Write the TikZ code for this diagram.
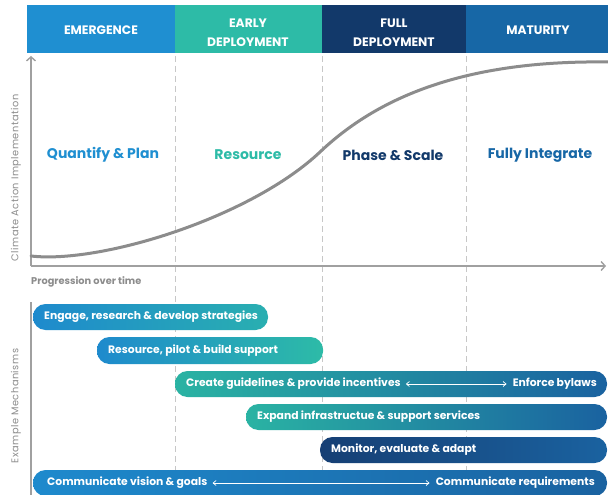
\documentclass[tikz,border=0pt]{standalone}
\usepackage{fontspec}
\setmainfont{Poppins}
\newfontfamily\spacedfont[LetterSpace=5]{Poppins}
\usetikzlibrary{arrows.meta}
\definecolor{cblue}{HTML}{1F8FD1}
\definecolor{cteal}{HTML}{2DBBA7}
\definecolor{cnavy}{HTML}{12396A}
\definecolor{cmat}{HTML}{1767A6}
\definecolor{cgray}{HTML}{8C8C8C}
\definecolor{cline}{HTML}{A0A0A0}
\definecolor{bblue}{HTML}{1E8ACD}
\definecolor{bteal}{HTML}{2AB3A3}
\definecolor{bnavy}{HTML}{163F74}
\definecolor{bend}{HTML}{1A62A0}
\tikzset{
  hdr/.style={text=white, font=\fontsize{12.3}{19}\selectfont\bfseries, align=center, inner sep=0},
  stage/.style={font=\fontsize{14}{16}\selectfont\bfseries, inner sep=0},
  bartext/.style={text=white, font=\fontsize{10.8}{12}\selectfont\bfseries, anchor=west, inner sep=0},
  axlabel/.style={text=cgray, font=\spacedfont\fontsize{9.8}{11}\selectfont, inner sep=0},
  phase/.style={draw=black!22, dashed, dash pattern=on 6pt off 4pt, line width=0.8pt},
  axis/.style={draw=cline, line width=1.4pt},
  barshape/.style={rounded corners=12.5pt},
  dbl/.style={draw=white, line width=0.7pt, {Straight Barb[length=3pt,width=5pt]}-{Straight Barb[length=3pt,width=5pt]}}
}
\begin{document}
\begin{tikzpicture}[x=1pt,y=-1pt]
\useasboundingbox (0,0) rectangle (608,495);
\fill[white] (0,0) rectangle (608,495);
% header
\fill[cblue] (27,5) rectangle (175,53);
\fill[cteal] (175,5) rectangle (322,53);
\fill[cnavy] (322,5) rectangle (466,53);
\fill[cmat] (466,5) rectangle (608,53);
\node[hdr] (h1) at (101,30) {EMERGENCE};
\node[hdr] (h2) at (248,32.5) {EARLY\\DEPLOYMENT};
\node[hdr] (h3) at (394,32.5) {FULL\\DEPLOYMENT};
\node[hdr] (h4) at (538,30) {MATURITY};
% dashed phase separators
\draw[phase] (175,56) -- (175,495);
\draw[phase] (322,56) -- (322,495);
\draw[phase] (466,56) -- (466,495);
% axes
\coordinate (org) at (31,266);
\coordinate (ytop) at (31,56);
\coordinate (xend) at (606,266);
\draw[axis, -{Straight Barb[length=4pt,width=9pt]}] (org) -- (ytop);
\draw[axis, -{Straight Barb[length=4pt,width=9pt]}] (org) -- (xend);
% S-curve
\draw[draw=cgray, line width=3pt, line cap=round]
  (31,256) .. controls (100,264) and (250,218) .. (320,152)
  .. controls (378,97) and (465,60) .. (608,62);
% axis labels
\node[axlabel, rotate=90] (ylab) at (16,178) {Climate Action Implementation};
\node[axlabel, font=\fontsize{9.8}{11}\selectfont\bfseries, text=black!45, anchor=west] (xlab) at (31,282) {Progression over time};
% stage labels
\node[stage, text=cblue] (s1) at (103,155) {Quantify \& Plan};
\node[stage, text=cteal] (s2) at (248,155) {Resource};
\node[stage, text=cnavy] (s3) at (393,155) {Phase \& Scale};
\node[stage, text=cmat] (s4) at (540,155) {Fully Integrate};
% lower section
\draw[axis, line width=1.2pt] (31,302) -- (31,495);
\node[axlabel, rotate=90] (mlab) at (16,406) {Example Mechanisms};
% bars
\shade[barshape, left color=bblue, right color=cteal!75!bblue] (33,304) rectangle (268,330);
\node[bartext] (b1) at (44,317) {Engage, research \& develop strategies};
\shade[barshape, left color=bblue, right color=cteal] (97,337) rectangle (323,364);
\node[bartext] (b2) at (108,350.5) {Resource, pilot \& build support};
\shade[barshape, left color=bteal, middle color=bnavy, right color=bend] (175,371) rectangle (607,397);
\node[bartext] (b3a) at (186,384) {Create guidelines \& provide incentives};
\node[bartext, anchor=east] (b3b) at (597,384) {Enforce bylaws};
\draw[dbl] ([xshift=5pt]b3a.east) -- ([xshift=-6pt]b3b.west);
\shade[barshape, left color=bteal, middle color=bnavy, right color=bend] (246,404) rectangle (607,430);
\node[bartext] (b4) at (257,417) {Expand infrastructue \& support services};
\shade[barshape, left color=bnavy, right color=bend] (320,437) rectangle (607,463);
\node[bartext] (b5) at (331,450) {Monitor, evaluate \& adapt};
\shade[barshape, left color=bblue, middle color=bnavy, right color=bend] (33,470) rectangle (607,496);
\node[bartext] (b6a) at (47,483) {Communicate vision \& goals};
\node[bartext, anchor=east] (b6b) at (595,483) {Communicate requirements};
\draw[dbl] ([xshift=5pt]b6a.east) -- ([xshift=-6pt]b6b.west);
\end{tikzpicture}
\end{document}
